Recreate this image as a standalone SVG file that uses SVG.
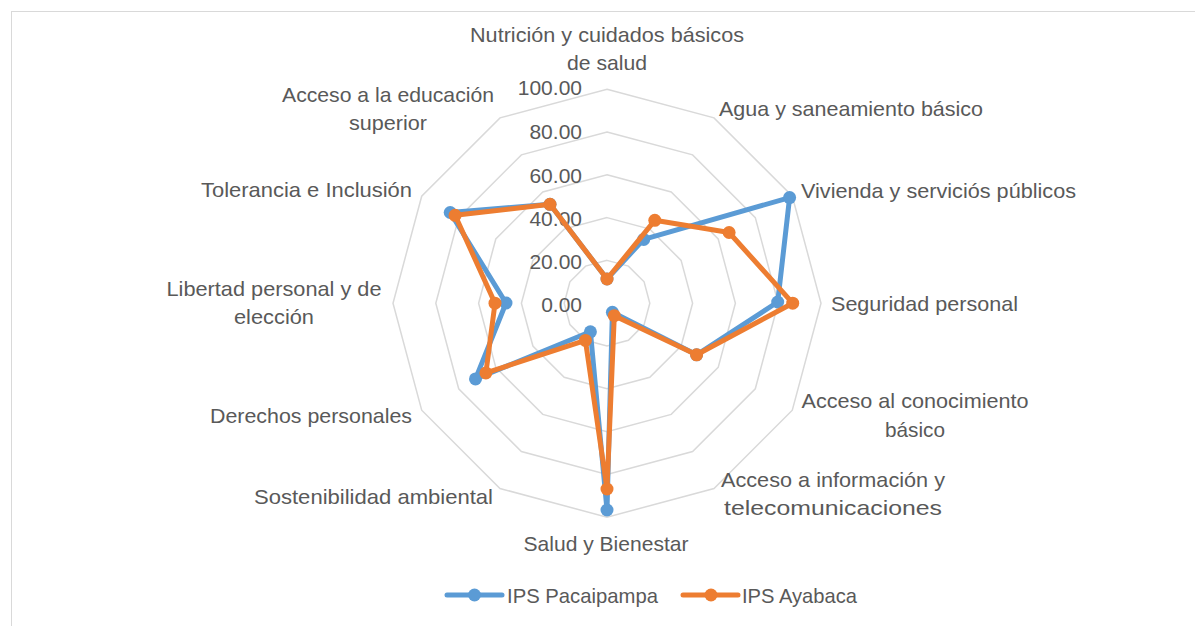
<svg xmlns="http://www.w3.org/2000/svg" width="1195" height="626" viewBox="0 0 1195 626">
<style>
.lbl{font-family:"Liberation Sans",Arial,sans-serif;font-size:21px;fill:#595959}
.num{font-family:"Liberation Sans",Arial,sans-serif;font-size:21px;fill:#595959;text-anchor:end}
.grid{fill:none;stroke:#D9D9D9;stroke-width:1.5}
.sb{fill:none;stroke:#5B9BD5;stroke-width:5;stroke-linejoin:round;stroke-linecap:round}
.so{fill:none;stroke:#ED7D31;stroke-width:5;stroke-linejoin:round;stroke-linecap:round}
.mb{fill:#5B9BD5}
.mo{fill:#ED7D31}
</style>
<defs>
<circle id="mk" r="6.5"/>
</defs>
<rect x="0" y="0" width="1195" height="626" fill="#FFFFFF"/>
<rect x="11.5" y="11.5" width="1195" height="626" fill="none" stroke="#D9D9D9" stroke-width="1"/>
<g id="grid">
<polygon class="grid" points="607,89.2 714,117.9 792.3,196.2 821,303.2 792.3,410.2 714,488.5 607,517.2 500,488.5 421.7,410.2 393,303.2 421.7,196.2 500,117.9"/>
<polygon class="grid" points="607,132 692.6,154.9 755.3,217.6 778.2,303.2 755.3,388.8 692.6,451.5 607,474.4 521.4,451.5 458.7,388.8 435.8,303.2 458.7,217.6 521.4,154.9"/>
<polygon class="grid" points="607,174.8 671.2,192 718.2,239 735.4,303.2 718.2,367.4 671.2,414.4 607,431.6 542.8,414.4 495.8,367.4 478.6,303.2 495.8,239 542.8,192"/>
<polygon class="grid" points="607,217.6 649.8,229.1 681.1,260.4 692.6,303.2 681.1,346 649.8,377.3 607,388.8 564.2,377.3 532.9,346 521.4,303.2 532.9,260.4 564.2,229.1"/>
<polygon class="grid" points="607,260.4 628.4,266.1 644.1,281.8 649.8,303.2 644.1,324.6 628.4,340.3 607,346 585.6,340.3 569.9,324.6 564.2,303.2 569.9,281.8 585.6,266.1"/>
</g>
<g id="axis-values">
<text class="num" x="582" y="95">100.00</text>
<text class="num" x="582" y="139">80.00</text>
<text class="num" x="582" y="183">60.00</text>
<text class="num" x="582" y="226">40.00</text>
<text class="num" x="582" y="269">20.00</text>
<text class="num" x="582" y="312">0.00</text>
</g>
<g id="connectors">
<g id="series-pacaipampa">
<polygon class="sb" points="607,279 643.7,239.4 789.6,197.6 777.7,302 696.6,354.8 612.4,312.3 607,510 590.4,331.8 475.5,378.9 506,303 450.2,212.5 550,204.3"/>
<use href="#mk" class="mb" x="607" y="279"/>
<use href="#mk" class="mb" x="643.7" y="239.4"/>
<use href="#mk" class="mb" x="789.6" y="197.6"/>
<use href="#mk" class="mb" x="777.7" y="302"/>
<use href="#mk" class="mb" x="696.6" y="354.8"/>
<use href="#mk" class="mb" x="612.4" y="312.3"/>
<use href="#mk" class="mb" x="607" y="510"/>
<use href="#mk" class="mb" x="590.4" y="331.8"/>
<use href="#mk" class="mb" x="475.5" y="378.9"/>
<use href="#mk" class="mb" x="506" y="303"/>
<use href="#mk" class="mb" x="450.2" y="212.5"/>
<use href="#mk" class="mb" x="550" y="204.3"/>
</g>
<g id="series-ayabaca">
<polygon class="so" points="607,279 654.8,220.3 729.1,232.5 792.7,303.2 696.6,354.8 614.3,315.7 607,489 585.4,340.4 485.9,372.9 495,303.2 455.1,215.3 550,204.3"/>
<use href="#mk" class="mo" x="607" y="279"/>
<use href="#mk" class="mo" x="654.8" y="220.3"/>
<use href="#mk" class="mo" x="729.1" y="232.5"/>
<use href="#mk" class="mo" x="792.7" y="303.2"/>
<use href="#mk" class="mo" x="696.6" y="354.8"/>
<use href="#mk" class="mo" x="614.3" y="315.7"/>
<use href="#mk" class="mo" x="607" y="489"/>
<use href="#mk" class="mo" x="585.4" y="340.4"/>
<use href="#mk" class="mo" x="485.9" y="372.9"/>
<use href="#mk" class="mo" x="495" y="303.2"/>
<use href="#mk" class="mo" x="455.1" y="215.3"/>
<use href="#mk" class="mo" x="550" y="204.3"/>
</g>
</g>
<g id="label-nutricion">
<text class="lbl" x="607" y="42" text-anchor="middle" textLength="274" lengthAdjust="spacingAndGlyphs">Nutrición y cuidados básicos</text>
<text class="lbl" x="607" y="70" text-anchor="middle" textLength="80" lengthAdjust="spacingAndGlyphs">de salud</text>
</g>
<g id="label-agua"><text class="lbl" x="719" y="116" textLength="264" lengthAdjust="spacingAndGlyphs">Agua y saneamiento básico</text></g>
<g id="label-vivienda"><text class="lbl" x="801" y="198" textLength="275" lengthAdjust="spacingAndGlyphs">Vivienda y serviciós públicos</text></g>
<g id="label-seguridad"><text class="lbl" x="831" y="311" textLength="187" lengthAdjust="spacingAndGlyphs">Seguridad personal</text></g>
<g id="label-conocimiento">
<text class="lbl" x="915" y="408" text-anchor="middle" textLength="227" lengthAdjust="spacingAndGlyphs">Acceso al conocimiento</text>
<text class="lbl" x="915" y="437" text-anchor="middle" textLength="60" lengthAdjust="spacingAndGlyphs">básico</text>
</g>
<g id="label-informacion">
<text class="lbl" x="833" y="487" text-anchor="middle" textLength="224" lengthAdjust="spacingAndGlyphs">Acceso a información y</text>
<text class="lbl" x="833" y="515" text-anchor="middle" textLength="218" lengthAdjust="spacingAndGlyphs">telecomunicaciones</text>
</g>
<g id="label-salud"><text class="lbl" x="606" y="551" text-anchor="middle" textLength="165" lengthAdjust="spacingAndGlyphs">Salud y Bienestar</text></g>
<g id="label-sostenibilidad"><text class="lbl" x="493" y="504" text-anchor="end" textLength="239" lengthAdjust="spacingAndGlyphs">Sostenibilidad ambiental</text></g>
<g id="label-derechos"><text class="lbl" x="412" y="423" text-anchor="end" textLength="202" lengthAdjust="spacingAndGlyphs">Derechos personales</text></g>
<g id="label-libertad">
<text class="lbl" x="274" y="296" text-anchor="middle" textLength="215" lengthAdjust="spacingAndGlyphs">Libertad personal y de</text>
<text class="lbl" x="274" y="324" text-anchor="middle" textLength="80" lengthAdjust="spacingAndGlyphs">elección</text>
</g>
<g id="label-tolerancia"><text class="lbl" x="412" y="197" text-anchor="end" textLength="211" lengthAdjust="spacingAndGlyphs">Tolerancia e Inclusión</text></g>
<g id="label-educacion">
<text class="lbl" x="388" y="102" text-anchor="middle" textLength="212" lengthAdjust="spacingAndGlyphs">Acceso a la educación</text>
<text class="lbl" x="388" y="130" text-anchor="middle" textLength="78" lengthAdjust="spacingAndGlyphs">superior</text>
</g>
<g id="legend">
<line x1="447" y1="595" x2="502" y2="595" class="sb"/>
<use href="#mk" class="mb" x="474.5" y="595"/>
<text class="lbl" x="507" y="603" textLength="151" lengthAdjust="spacingAndGlyphs">IPS Pacaipampa</text>
<line x1="683" y1="595" x2="738" y2="595" class="so"/>
<use href="#mk" class="mo" x="711" y="595"/>
<text class="lbl" x="742" y="603" textLength="115" lengthAdjust="spacingAndGlyphs">IPS Ayabaca</text>
</g>
</svg>
